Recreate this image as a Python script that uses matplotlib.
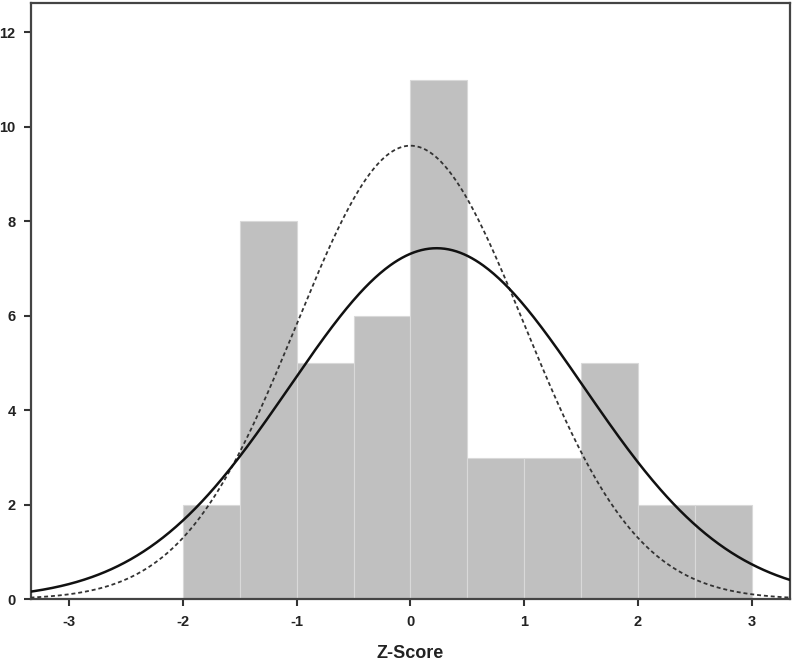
import numpy as np
import matplotlib
matplotlib.use("Agg")
import matplotlib.pyplot as plt

# Histogram data (bin edges and counts)
bin_edges = [-2.0, -1.5, -1.0, -0.5, 0.0, 0.5, 1.0, 1.5, 2.0, 2.5, 3.0]
counts = [2, 8, 5, 6, 11, 3, 3, 5, 2, 2]

# Fitted normal curve (solid) and reference standard normal (dashed)
fit_mean = 0.23
fit_sd = 1.29
fit_peak = 7.43
ref_mean = 0.0
ref_sd = 1.0
ref_peak = 9.6

x_ticks = [-3, -2, -1, 0, 1, 2, 3]
y_ticks = [0, 2, 4, 6, 8, 10, 12]

plt.rcParams['font.family'] = ['Liberation Sans', 'DejaVu Sans']

fig = plt.figure(figsize=(7.92, 6.62), dpi=100)
ax = fig.add_axes([0.0391, 0.0947, 0.9584, 0.9008])

edges = np.array(bin_edges)
ax.bar(edges[:-1], counts, width=np.diff(edges), align='edge',
       color='#c0c0c0', edgecolor='#d9d9d9', linewidth=0.8, zorder=1)

xs = np.linspace(-3.4, 3.4, 600)
ax.plot(xs, ref_peak * np.exp(-0.5 * ((xs - ref_mean) / ref_sd) ** 2),
        color='#333333', lw=1.3, ls=(0, (2.2, 1.6)), zorder=3)
ax.plot(xs, fit_peak * np.exp(-0.5 * ((xs - fit_mean) / fit_sd) ** 2),
        color='#111111', lw=1.8, zorder=4)

ax.set_xlim(-3.335, 3.336)
ax.set_ylim(0, 12.62)
ax.set_xticks(x_ticks)
ax.set_yticks(y_ticks)
ax.set_xticklabels([str(t) for t in x_ticks], fontsize=10.5, fontweight='bold', color='#222222')
ax.set_yticklabels([str(t) for t in y_ticks], fontsize=10.5, fontweight='bold', color='#222222')
ax.tick_params(axis='both', direction='out', length=5, width=1.5, color='#333333', pad=6)
ax.tick_params(top=False, right=False)
for sp in ax.spines.values():
    sp.set_color('#444444')
    sp.set_linewidth(1.6)

ax.set_xlabel('Z-Score', fontsize=13, fontweight='bold', color='#222222', labelpad=12)

fig.savefig('out.png', dpi=100)
